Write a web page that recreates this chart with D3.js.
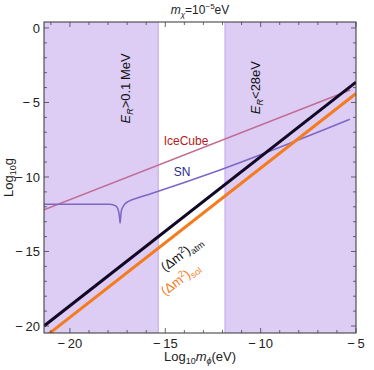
<!DOCTYPE html>
<html>
<head>
<meta charset="utf-8">
<script src="https://cdn.jsdelivr.net/npm/d3@7"></script>
<style>
  body { margin: 0; background: #fff; }
  text { font-family: "Liberation Sans", Arial, sans-serif; }
</style>
</head>
<body>
<div class="chart"></div>
<script>
// axis ranges and ticks
const xDomain = [-21.36, -5];
const yDomain = [-20.47, 0.4];
const xTicks = [-20, -15, -10, -5];
const yTicks = [0, -5, -10, -15, -20];

// excluded (shaded) bands in log10 m_phi
const shadeFrom = [-21.36, -11.87];
const shadeTo = [-15.37, -5];

// curves: log10 m_phi -> log10 g
const atmX = [-21.36, -5];
const atmY = [-20.0, -3.64];
const solX = [-21.36, -5];
const solY = [-20.78, -4.40];
const iceX = [-21.36, -5.3];
const iceY = [-12.2, -4.16];
const snX = [-21.36, -17.9, -17.58, -17.45, -17.40, -17.37, -17.34, -17.30, -17.16, -16.9, -16.5, -15.8, -12.13, -5.32];
const snY = [-11.83, -11.83, -11.95, -12.3, -12.7, -13.09, -12.7, -12.25, -11.88, -11.62, -11.43, -11.14, -9.53, -6.13];

const width = 374, height = 370;
const margin = {left: 44, right: 18, top: 22, bottom: 37};

const svg = d3.select(".chart").append("svg")
    .attr("width", width)
    .attr("height", height);

const x = d3.scaleLinear().domain(xDomain).range([margin.left, width - margin.right]);
const y = d3.scaleLinear().domain(yDomain).range([height - margin.bottom, margin.top]);

svg.append("clipPath").attr("id", "plotClip")
    .append("rect")
    .attr("x", x(xDomain[0])).attr("y", y(yDomain[1]))
    .attr("width", x(xDomain[1]) - x(xDomain[0]))
    .attr("height", y(yDomain[0]) - y(yDomain[1]));

const plot = svg.append("g").attr("clip-path", "url(#plotClip)");

// shaded bands
shadeFrom.forEach((f, i) => {
    plot.append("rect")
        .attr("x", x(f))
        .attr("y", y(yDomain[1]))
        .attr("width", x(shadeTo[i]) - x(f))
        .attr("height", y(yDomain[0]) - y(yDomain[1]))
        .style("fill", "#ddcdf5");
    plot.append("line")
        .attr("x1", x(i === 0 ? shadeTo[i] : f)).attr("x2", x(i === 0 ? shadeTo[i] : f))
        .attr("y1", y(yDomain[0])).attr("y2", y(yDomain[1]))
        .style("stroke", "#c7b0ef").style("stroke-width", 1.2);
});

const line = d3.line().x(d => x(d[0])).y(d => y(d[1]));

function drawCurve(xs, ys, color, w, curve) {
    plot.append("path")
        .datum(xs.map((v, i) => [v, ys[i]]))
        .attr("d", curve ? line.curve(curve) : line.curve(d3.curveLinear))
        .style("fill", "none")
        .style("stroke", color)
        .style("stroke-width", w);
}

drawCurve(iceX, iceY, "#bf6e93", 1.5);
drawCurve(snX, snY, "#7d66c6", 1.5, d3.curveMonotoneX);
drawCurve(solX, solY, "#f47c1e", 3);
drawCurve(atmX, atmY, "#120826", 3);

// frame and ticks
const x0 = x(xDomain[0]), x1 = x(xDomain[1]);
const y0 = y(yDomain[0]), y1 = y(yDomain[1]);
svg.append("rect")
    .attr("x", x0).attr("y", y1)
    .attr("width", x1 - x0).attr("height", y0 - y1)
    .style("fill", "none").style("stroke", "#333").style("stroke-width", 1);

const minorX = d3.range(-21, -4, 1);
const minorY = d3.range(-20, 1, 1);
const tickG = svg.append("g").style("stroke", "#444").style("stroke-width", 0.8);

minorX.forEach(v => {
    const len = xTicks.includes(v) ? 5 : 3;
    tickG.append("line").attr("x1", x(v)).attr("x2", x(v)).attr("y1", y0).attr("y2", y0 - len);
    tickG.append("line").attr("x1", x(v)).attr("x2", x(v)).attr("y1", y1).attr("y2", y1 + len);
});
minorY.forEach(v => {
    const len = yTicks.includes(v) ? 5 : 3;
    tickG.append("line").attr("x1", x0).attr("x2", x0 + len).attr("y1", y(v)).attr("y2", y(v));
    tickG.append("line").attr("x1", x1).attr("x2", x1 - len).attr("y1", y(v)).attr("y2", y(v));
});

const fmt = v => v < 0 ? "\u2212\u2009" + Math.abs(v) : String(v);

svg.selectAll(".xlab")
    .data(xTicks).enter().append("text")
    .attr("x", d => x(d)).attr("y", y0 + 15)
    .style("text-anchor", "middle").style("font-size", "13px").style("fill", "#222")
    .text(fmt);

svg.selectAll(".ylab")
    .data(yTicks).enter().append("text")
    .attr("x", x0 - 4).attr("y", d => y(d)).attr("dy", "0.35em")
    .style("text-anchor", "end").style("font-size", "13px").style("fill", "#222")
    .text(fmt);

// title
const title = svg.append("text")
    .attr("x", 200).attr("y", 14)
    .style("text-anchor", "middle").style("font-size", "12px").style("fill", "#222");
title.append("tspan").style("font-style", "italic").text("m");
title.append("tspan").attr("dy", 3).style("font-size", "8px").style("font-style", "italic").text("\u03c7");
title.append("tspan").attr("dy", -3).text("=10");
title.append("tspan").attr("dy", -5).style("font-size", "8px").text("\u22125");
title.append("tspan").attr("dy", 5).text("eV");

// axis labels
const xl = svg.append("text")
    .attr("x", 200).attr("y", 361)
    .style("text-anchor", "middle").style("font-size", "13px").style("fill", "#222");
xl.append("tspan").text("Log");
xl.append("tspan").attr("dy", 3).style("font-size", "9px").text("10");
xl.append("tspan").attr("dy", -3).style("font-style", "italic").text("m");
xl.append("tspan").attr("dy", 3).style("font-size", "9px").style("font-style", "italic").text("\u03d5");
xl.append("tspan").attr("dy", -3).text("(eV)");

const yl = svg.append("text")
    .attr("transform", "translate(13," + ((y0 + y1) / 2) + ") rotate(-90)")
    .style("text-anchor", "middle").style("font-size", "13px").style("fill", "#222");
yl.append("tspan").text("Log");
yl.append("tspan").attr("dy", 3).style("font-size", "9px").text("10");
yl.append("tspan").attr("dy", -3).text("g");

// band labels
function bandLabel(xv, yv, rest) {
    const t = svg.append("text")
        .attr("transform", "translate(" + x(xv) + "," + y(yv) + ") rotate(-90)")
        .style("text-anchor", "middle").style("font-size", "13px").style("fill", "#111");
    t.append("tspan").style("font-style", "italic").text("E");
    t.append("tspan").attr("dy", 3).style("font-size", "9px").style("font-style", "italic").text("R");
    t.append("tspan").attr("dy", -3).text(rest);
}
bandLabel(-16.85, -4.06, ">0.1\u2009MeV");
bandLabel(-10.03, -4.0, "<28eV");

// curve labels
svg.append("text")
    .attr("x", 186).attr("y", 145)
    .style("text-anchor", "middle").style("font-size", "12px").style("fill", "#b31b1b")
    .text("IceCube");
svg.append("text")
    .attr("x", 182).attr("y", 176)
    .style("text-anchor", "middle").style("font-size", "12px").style("fill", "#2a2a8c")
    .text("SN");

function massLabel(px, py, sub, color) {
    const t = svg.append("text")
        .attr("transform", "translate(" + px + "," + py + ") rotate(-37)")
        .style("font-size", "13px").style("fill", color);
    t.append("tspan").text("(\u0394m");
    t.append("tspan").attr("dy", -5).style("font-size", "9px").text("2");
    t.append("tspan").attr("dy", 5).text(")");
    t.append("tspan").attr("dy", 3).style("font-size", "9px").text(sub);
}
massLabel(165, 272, "atm", "#111");
massLabel(165, 296, "sol", "#f47c1e");
</script>
</body>
</html>
